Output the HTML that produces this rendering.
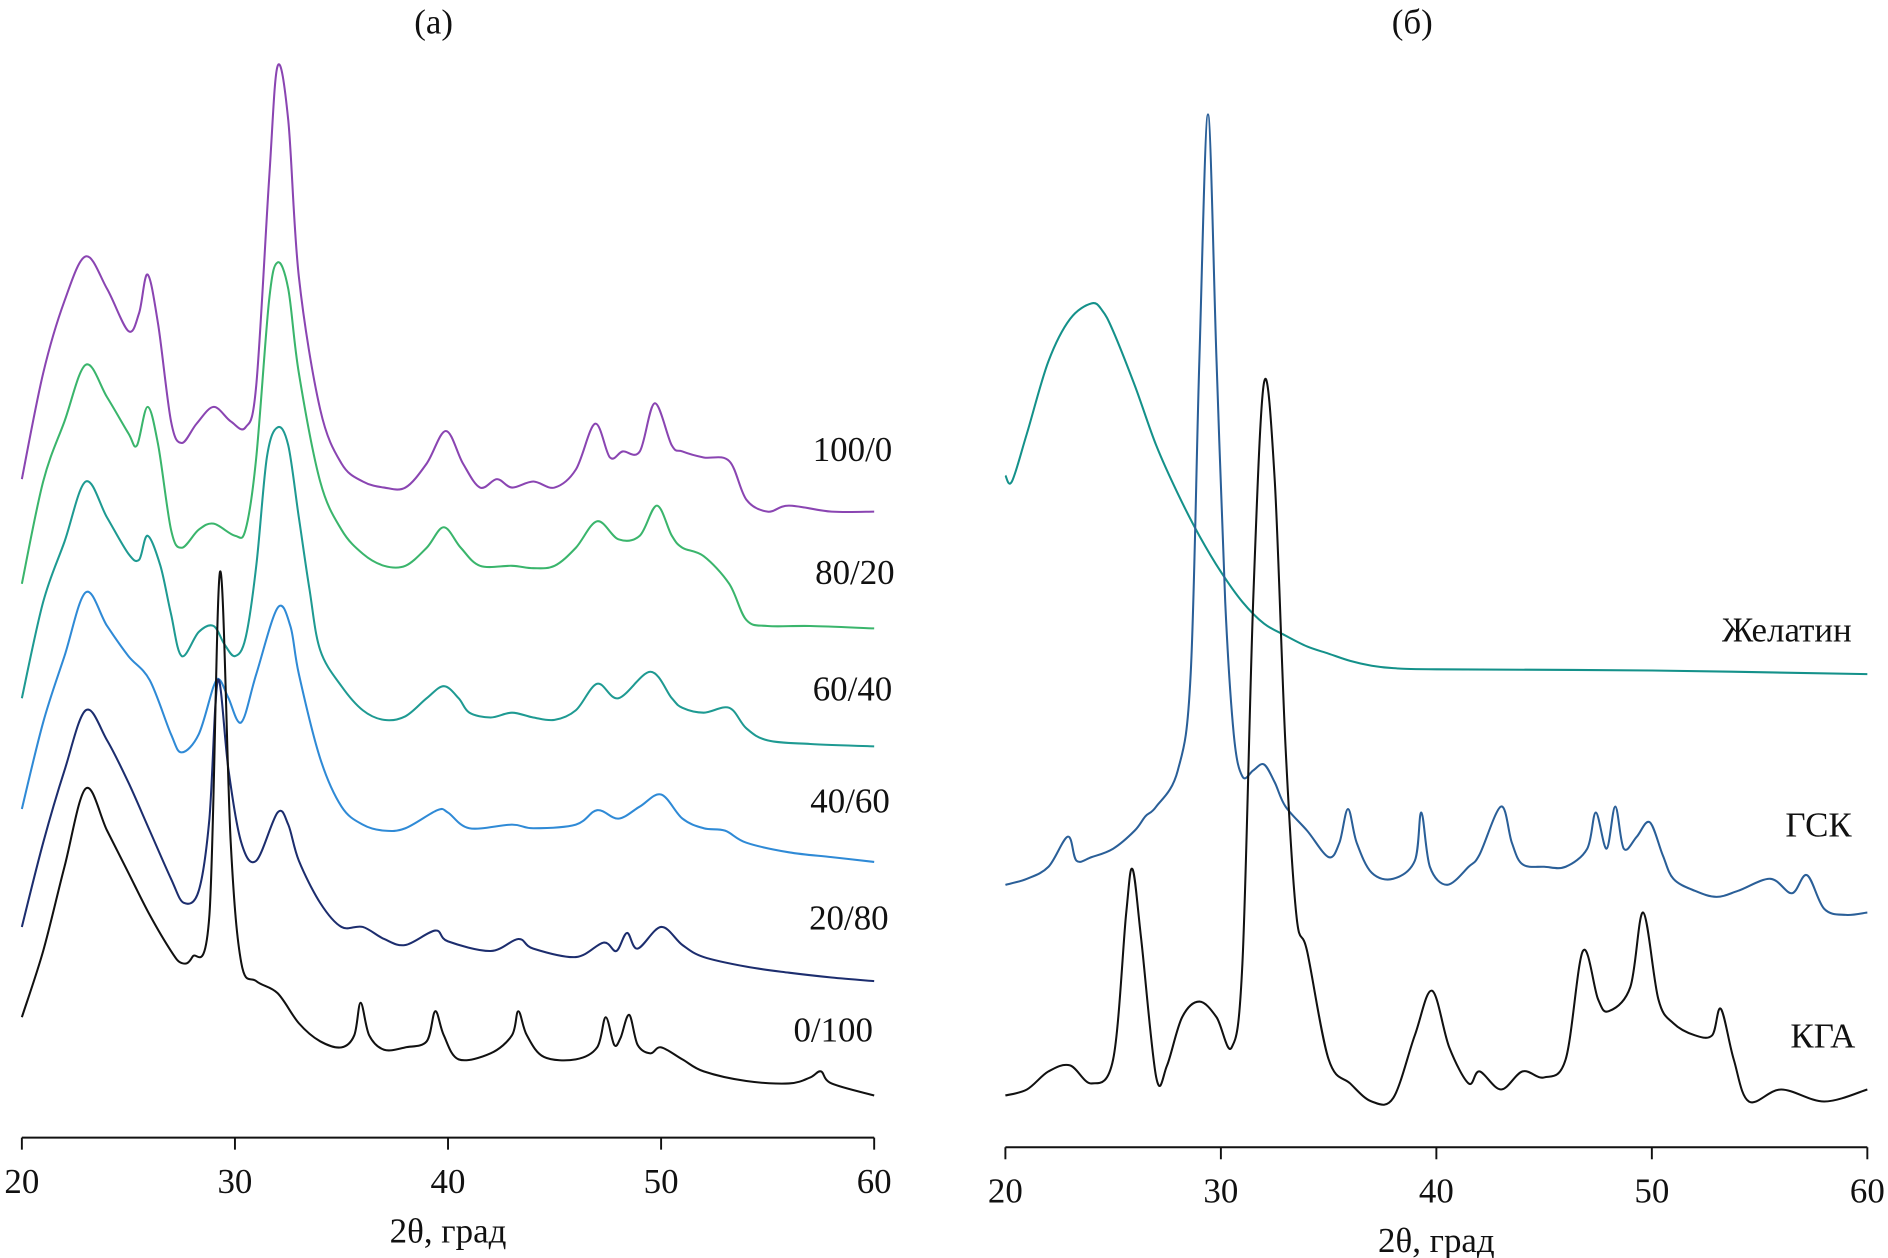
<!DOCTYPE html>
<html><head><meta charset="utf-8"><style>
html,body{margin:0;padding:0;background:#fff;}
svg{display:block;}
text{font-family:"Liberation Serif","DejaVu Serif",serif;fill:#111;}
</style></head><body>
<svg id="chart" width="1888" height="1258" viewBox="0 0 1568 1045" xmlns="http://www.w3.org/2000/svg">
<g id="pa"></g>
<g id="pb"></g>
</svg>
<script>
const ticksX = [20,30,40,50,60];
const tickLabels = ["20","30","40","50","60"];
// Panel (a) series
const t0100 = [20,21,22,23,24,25,26,27,27.5,28,28.8,29.3,29.8,30.3,31,32,33,34,35,35.6,35.9,36.3,37,38,39,39.4,39.8,40.5,42,43,43.3,43.7,44.5,46,47,47.4,47.8,48.1,48.5,48.9,49.5,50,51,52,54,56,57,57.5,58,60];
const v0100 = [155,210,280,345,310,275,240,210,200,205,240,525,300,200,185,175,150,135,130,140,167,140,128,130,135,160,140,120,125,140,160,140,122,120,130,155,132,138,157,132,125,130,120,110,102,100,105,110,100,90];
const t2080 = [20,21,22,23,24,25,26,27,27.6,28.3,28.8,29.2,29.7,30.3,31,32,32.5,33,34,35,36,37,38,39.4,40,42,43.3,44,46,47.3,47.9,48.4,48.9,50,51,52,54,56,58,60];
const v2080 = [230,300,360,410,385,350,310,270,250,260,320,435,360,300,285,325,315,285,250,230,230,220,215,227,218,210,220,212,205,217,210,225,212,230,215,205,197,192,188,185];
const t4060 = [20,21,22,23,24,25,26,27,27.5,28.3,29,29.3,29.7,30.3,31,32,32.6,33,34,35,36,37,38,39.5,40,41,43,44,46,47,48,49,50,51,52,53,54,56,58,60];
const v4060 = [328,400,455,508,480,455,435,390,375,390,430,435,420,400,440,495,480,440,370,330,315,310,312,327,325,312,315,312,315,327,320,330,340,320,312,310,300,292,288,284];
const t6040 = [20,21,22,23,24,25,25.5,25.9,26.5,27,27.5,28.3,29,29.5,30,30.5,31,31.5,32,32.5,33,33.5,34,35,36,37,38,39,39.8,40.5,41,42,43,44,45,46,47,48,49.5,50.5,51,52,53.2,54,55,57,60];
const v6040 = [420,500,550,600,570,540,535,555,530,490,455,475,480,465,455,470,530,620,645,630,570,510,460,430,410,402,405,420,430,420,408,404,408,404,402,410,432,420,442,420,412,408,412,395,385,382,380];
const t8020 = [20,21,22,23,24,25,25.4,25.9,26.4,27,27.5,28.3,29,30,30.5,31,31.6,32,32.5,33,34,35,36,37,38,39,39.8,40.6,41.5,43,44,45,46,47,48,49,49.8,50.5,51,52,53.2,54,55,57,60];
const v8020 = [515,600,650,697,670,640,630,662,630,560,545,560,565,555,560,620,750,782,760,690,600,560,540,530,530,545,562,545,530,530,528,530,545,567,552,555,580,555,545,538,515,485,480,480,478];
const t1000 = [20,21,22,23,24,25,25.5,25.9,26.4,27,27.5,28.2,29,29.8,30.5,31,31.6,32,32.5,33,34,35,36,37,38,39,39.9,40.7,41.5,42.3,43,44,45,46,46.9,47.6,48.2,49,49.7,50.5,51,52,53.2,54,55,56,58,60];
const v1000 = [602,690,750,787,760,725,740,772,730,650,632,648,662,650,645,680,850,945,900,770,660,615,600,595,595,615,642,615,595,602,595,600,595,610,648,620,625,625,665,630,625,620,617,585,575,580,575,575];
// Panel (b) series
const tGel = [20,20.3,21,22,23,24,24.5,25,26,27,28,29,30,31,32,33,34,35,36,37,38,40,50,60];
const vGel = [605,600,640,700,735,748,742,725,680,630,590,555,525,500,482,472,463,457,451,447,445,444,443,440];
const tGsk = [20,21,22,22.9,23.3,24,25,26,26.5,27,28,28.6,29,29.4,29.8,30.2,30.6,31,31.5,32,32.5,33,34,35,35.5,35.9,36.3,37,38,39,39.3,39.7,40.5,41.5,42,43,43.5,44,45,46,47,47.4,47.9,48.3,48.7,49.3,49.9,50.5,51,52,53,54,55.5,56.5,57.2,58,59,60];
const vGsk = [265,270,280,305,285,288,295,310,322,330,360,440,700,905,700,500,390,355,360,365,350,330,310,288,300,328,300,275,270,285,325,280,265,280,290,330,300,282,280,280,295,325,295,330,295,305,317,290,270,260,255,260,270,258,273,245,240,242];
const tKga = [20,21,22,23,24,25,25.6,25.9,26.3,27,27.5,28.2,29,29.8,30.5,31,31.5,32,32.5,33,33.5,34,35,36,37,38,39,39.8,40.6,41.5,42,43,44,45,46,46.8,47.5,48,49,49.6,50.3,51,52,52.8,53.2,53.8,54.5,56,58,60];
const vKga = [90,95,110,115,100,120,240,278,220,105,115,155,168,155,130,200,500,682,600,380,240,210,120,100,85,88,140,177,130,100,110,95,110,105,120,210,170,160,180,242,170,150,140,140,162,120,85,95,85,95];

const NS = "http://www.w3.org/2000/svg";
function mk(tag, attrs, parent){const e=document.createElementNS(NS,tag);for(const k in attrs)e.setAttribute(k,attrs[k]);parent.appendChild(e);return e;}
function xScaleFactory(x0,x1){return t=>x0+(t-20)/(60-20)*(x1-x0);}
function yScale(v){return 1000-v;}
function smoothPath(p){
  let d='M'+p[0][0].toFixed(1)+','+p[0][1].toFixed(1);
  for(let i=0;i<p.length-1;i++){
    const p0=p[Math.max(0,i-1)],p1=p[i],p2=p[i+1],p3=p[Math.min(p.length-1,i+2)];
    const c1x=p1[0]+(p2[0]-p0[0])/6,c1y=p1[1]+(p2[1]-p0[1])/6;
    const c2x=p2[0]-(p3[0]-p1[0])/6,c2y=p2[1]-(p3[1]-p1[1])/6;
    d+=' C'+c1x.toFixed(1)+','+c1y.toFixed(1)+' '+c2x.toFixed(1)+','+c2y.toFixed(1)+' '+p2[0].toFixed(1)+','+p2[1].toFixed(1);
  }
  return d;
}

function drawPanel(g, x0, x1, axisY, title, titleX, series, labels){
  const xs = xScaleFactory(x0,x1);
  const ax = mk('line',{x1:x0,y1:axisY,x2:x1,y2:axisY,stroke:'#111','stroke-width':1.6},g);
  
  
  ticksX.forEach((t,i)=>{
    const tk=mk('line',{x1:xs(t),y1:axisY,x2:xs(t),y2:axisY+10,stroke:'#111','stroke-width':1.6},g);
    
    
    const tl=mk('text',{x:xs(t),y:axisY+46,'text-anchor':'middle','font-size':29},g);
    tl.textContent=tickLabels[i];
    
    
  });
  const at=mk('text',{x:(x0+x1)/2,y:axisY+87,'text-anchor':'middle','font-size':29},g);
  at.textContent='2θ, град';
  
  
  const pt=mk('text',{x:titleX,y:28,'text-anchor':'middle','font-size':29},g);
  pt.textContent=title;
  
  
  series.forEach(s=>{
    const pts=s.t.map((t,i)=>[xs(t),yScale(s.v[i])]);
    const pl=mk('path',{d:smoothPath(pts),fill:'none',stroke:s.c,'stroke-width':1.7,'stroke-linejoin':'round'},g);
    
    
  });
  labels.forEach(l=>{
    const tx=mk('text',{x:l[1],y:l[2],'text-anchor':'end','font-size':29},g);
    tx.textContent=l[0];
    
    
  });
}

drawPanel(document.getElementById('pa'),18,726,945,'(а)',360,[
  {t:t1000,v:v1000,c:'#8a45b2',n:'100-0'},
  {t:t8020,v:v8020,c:'#3ab56c',n:'80-20'},
  {t:t6040,v:v6040,c:'#1e9a92',n:'60-40'},
  {t:t4060,v:v4060,c:'#2f8ad6',n:'40-60'},
  {t:t2080,v:v2080,c:'#1c2d6e',n:'20-80'},
  {t:t0100,v:v0100,c:'#111111',n:'0-100'}
],[["100/0",741,383],["80/20",743,485],["60/40",741,582],["40/60",739,675],["20/80",738,772],["0/100",725,865]]);

drawPanel(document.getElementById('pb'),835,1551,953,'(б)',1173,[
  {t:tGel,v:vGel,c:'#14918a',n:'gelatin'},
  {t:tGsk,v:vGsk,c:'#2a5f98',n:'gsk'},
  {t:tKga,v:vKga,c:'#111111',n:'kga'}
],[["Желатин",1538,533],["ГСК",1538,695],["КГА",1541,870]]);
</script>
</body></html>
